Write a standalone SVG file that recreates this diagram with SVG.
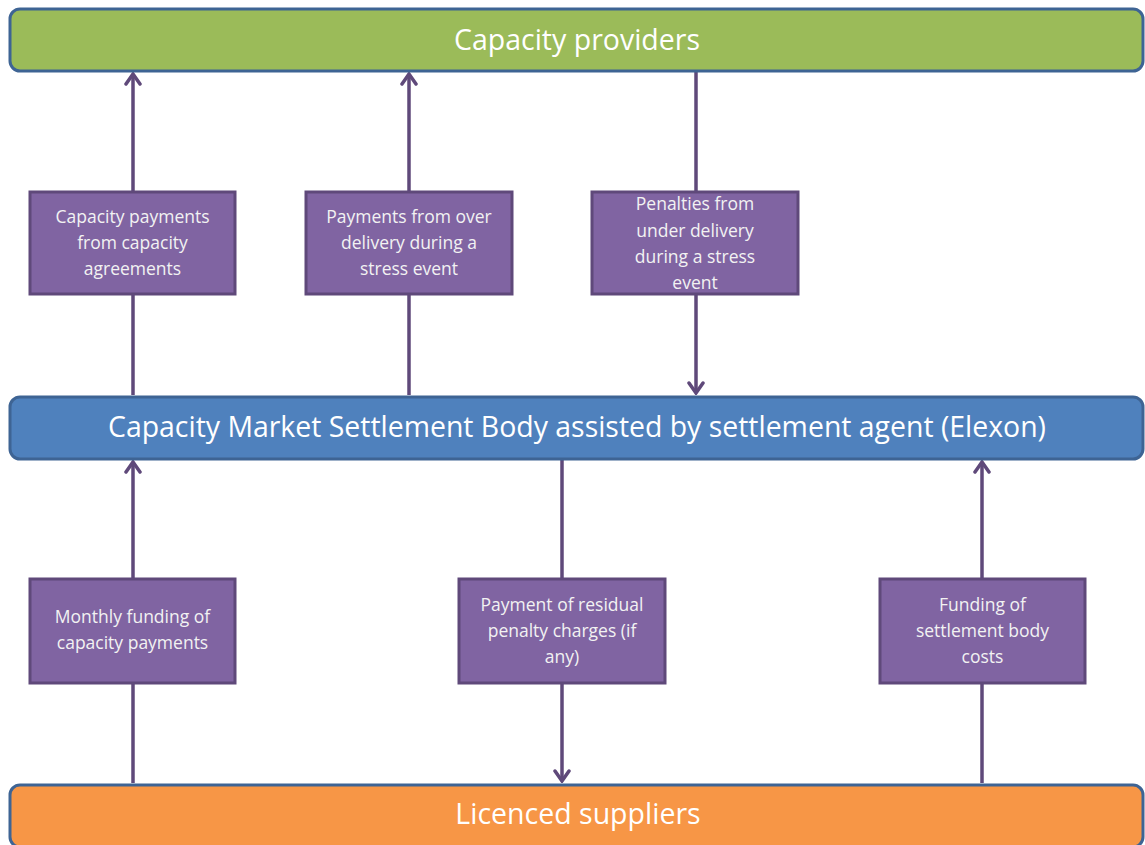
<svg xmlns="http://www.w3.org/2000/svg" width="1145" height="845" viewBox="0 0 1145 845">
<defs>
<marker id="arr" viewBox="0 0 14 18" refX="12" refY="9" markerWidth="14" markerHeight="18" markerUnits="userSpaceOnUse" orient="auto">
<path d="M2,2 L12,9 L2,16" fill="none" stroke="#5f497a" stroke-width="3.5" stroke-linecap="round" stroke-linejoin="miter"/>
</marker>
<style>
.bar{stroke:#3e6494;stroke-width:3}
.bt{font-family:"Open Sans","Liberation Sans",sans-serif;fill:#ffffff;font-size:28.5px;text-anchor:middle}
.box{fill:#8064a2;stroke:#5f497a;stroke-width:3}
.t{font-family:"Open Sans","Liberation Sans",sans-serif;fill:#f2f2f2;font-size:17.5px;text-anchor:middle}
.c{stroke:#5f497a;stroke-width:3.5;fill:none}
</style>
</defs>
<g id="connectors">
<line class="c" x1="133" y1="395" x2="133" y2="74" marker-end="url(#arr)"/>
<line class="c" x1="409" y1="395" x2="409" y2="74" marker-end="url(#arr)"/>
<line class="c" x1="696" y1="72" x2="696" y2="393" marker-end="url(#arr)"/>
<line class="c" x1="133" y1="783" x2="133" y2="462" marker-end="url(#arr)"/>
<line class="c" x1="562" y1="460" x2="562" y2="781" marker-end="url(#arr)"/>
<line class="c" x1="982" y1="783" x2="982" y2="462" marker-end="url(#arr)"/>
</g>
<g id="providers">
<rect class="bar" x="10" y="9" width="1133" height="62" rx="10" fill="#9bbb59"/>
<text class="bt" x="577" y="50">Capacity providers</text>
</g>
<g id="settlement">
<rect class="bar" x="10" y="397" width="1133" height="62" rx="10" fill="#4f81bd"/>
<text class="bt" x="577" y="437" textLength="938" lengthAdjust="spacingAndGlyphs">Capacity Market Settlement Body assisted by settlement agent (Elexon)</text>
</g>
<g id="suppliers">
<rect class="bar" x="10" y="785" width="1133" height="62" rx="10" fill="#f79646"/>
<text class="bt" x="578" y="824">Licenced suppliers</text>
</g>
<g id="box1">
<rect class="box" x="30" y="192" width="205" height="102"/>
<text class="t" x="132.5" y="223">Capacity payments</text>
<text class="t" x="132.5" y="249">from  capacity</text>
<text class="t" x="132.5" y="275">agreements</text>
</g>
<g id="box2">
<rect class="box" x="306" y="192" width="206" height="102"/>
<text class="t" x="409" y="223">Payments from over</text>
<text class="t" x="409" y="249">delivery during a</text>
<text class="t" x="409" y="275">stress event</text>
</g>
<g id="box3">
<rect class="box" x="592" y="192" width="206" height="102"/>
<text class="t" x="695" y="210">Penalties from</text>
<text class="t" x="695" y="237">under delivery</text>
<text class="t" x="695" y="263">during a stress</text>
<text class="t" x="695" y="289">event</text>
</g>
<g id="box4">
<rect class="box" x="30" y="579" width="205" height="104"/>
<text class="t" x="132.5" y="623">Monthly funding of</text>
<text class="t" x="132.5" y="649">capacity payments</text>
</g>
<g id="box5">
<rect class="box" x="459" y="579" width="206" height="104"/>
<text class="t" x="562" y="611">Payment of residual</text>
<text class="t" x="562" y="637">penalty charges (if</text>
<text class="t" x="562" y="663">any)</text>
</g>
<g id="box6">
<rect class="box" x="880" y="579" width="205" height="104"/>
<text class="t" x="982.5" y="611">Funding of</text>
<text class="t" x="982.5" y="637">settlement body</text>
<text class="t" x="982.5" y="663">costs</text>
</g>
</svg>
